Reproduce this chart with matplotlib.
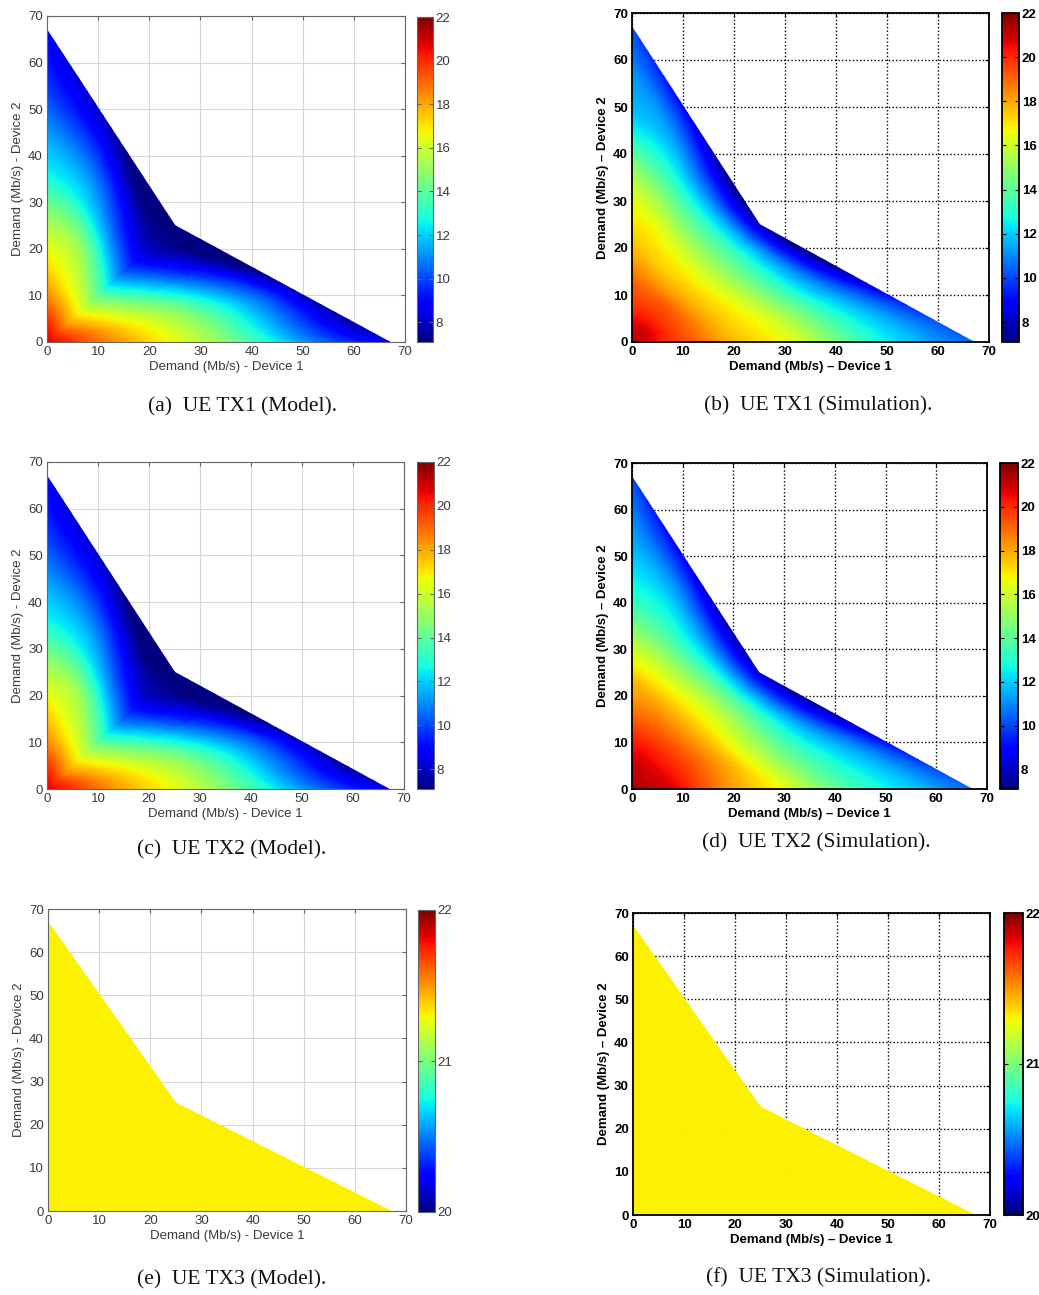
import numpy as np
import matplotlib
matplotlib.use('Agg')
import matplotlib.pyplot as plt
import matplotlib.tri as mtri

W, H = 1039, 1295  # output size in pixels (dpi 100)

# Demand region: five sampling rays from the origin to the region boundary
# (left edge, upper middle, diagonal, lower middle, bottom edge), in Mb/s
ray_end_x = [0.0, 12.5, 25.0, 46.0, 67.0]
ray_end_y = [67.0, 46.0, 25.0, 12.5, 0.0]
ray_steps = np.linspace(0, 1, 11)  # node fractions along each ray

# UE transmit power (dBm) at the ray nodes, origin first, boundary last
# UE TX1 (Model)
a_left  = [20.8, 19.3, 17.8, 16.6, 15.0, 13.2, 12.0, 11.0, 10.0, 9.3, 8.8]
a_upmid = [20.8, 19.5, 17.8, 16.6, 15.8, 14.6, 12.8, 11.5, 10.3, 9.0, 7.8]
a_diag  = [20.8, 19.2, 17.5, 15.8, 14.0, 12.0, 10.3, 8.9, 7.9, 7.4, 7.1]
a_lomid = [20.8, 19.6, 18.3, 17.2, 16.2, 15.2, 14.0, 12.6, 11.2, 9.7, 7.8]
a_bot   = [20.8, 19.5, 18.3, 17.2, 16.2, 15.0, 13.6, 12.0, 10.6, 9.5, 8.9]
# UE TX1 (Simulation)
b_left  = [21.0, 20.0, 19.0, 17.7, 16.8, 15.8, 14.0, 12.1, 11.4, 10.8, 10.2]
b_upmid = [21.0, 20.5, 19.4, 18.2, 17.2, 16.4, 15.0, 13.4, 11.8, 10.3, 8.6]
b_diag  = [21.0, 20.8, 19.8, 19.0, 17.8, 16.9, 15.8, 14.5, 13.0, 10.8, 8.0]
b_lomid = [21.0, 20.5, 19.4, 18.3, 17.3, 16.5, 15.2, 13.6, 12.0, 10.4, 8.4]
b_bot   = [21.0, 20.0, 18.9, 17.7, 17.0, 16.0, 14.5, 13.0, 12.0, 11.1, 10.4]
# UE TX2 (Model)
c_left  = [20.8, 19.3, 17.9, 16.7, 15.0, 13.2, 12.0, 11.0, 10.0, 9.3, 8.8]
c_upmid = [20.8, 19.5, 17.8, 16.6, 15.8, 14.6, 12.8, 11.5, 10.3, 9.0, 7.8]
c_diag  = [20.8, 19.2, 17.5, 15.8, 14.0, 12.0, 10.3, 8.9, 7.9, 7.4, 7.1]
c_lomid = [20.8, 19.6, 18.3, 17.2, 16.2, 15.2, 14.0, 12.6, 11.2, 9.7, 7.8]
c_bot   = [20.8, 19.5, 18.3, 17.2, 16.2, 15.0, 13.6, 12.0, 10.6, 9.5, 8.9]
# UE TX2 (Simulation)
d_left  = [21.5, 20.8, 19.5, 18.2, 16.9, 15.0, 13.3, 12.2, 11.4, 10.8, 10.2]
d_upmid = [21.5, 21.0, 20.2, 19.1, 18.0, 16.6, 15.0, 13.3, 11.9, 10.4, 8.6]
d_diag  = [21.5, 21.0, 20.5, 19.7, 18.8, 17.7, 16.6, 15.3, 13.5, 11.0, 8.4]
d_lomid = [21.5, 21.0, 20.2, 19.1, 18.0, 16.6, 15.0, 13.5, 12.1, 10.6, 8.5]
d_bot   = [21.5, 20.9, 19.5, 18.0, 17.0, 15.8, 14.2, 13.0, 12.2, 11.3, 10.6]
# UE TX3 transmits at a flat power everywhere in the region
e_power = 21.31
f_power = 21.31

tx12_range = (7.1, 22.0)
tx12_ticks = [8, 10, 12, 14, 16, 18, 20, 22]
tx3_range = (20.0, 22.0)
tx3_ticks = [20, 21, 22]

captions = ['(a)  UE TX1 (Model).', '(b)  UE TX1 (Simulation).',
            '(c)  UE TX2 (Model).', '(d)  UE TX2 (Simulation).',
            '(e)  UE TX3 (Model).', '(f)  UE TX3 (Simulation).']


def make_tri(ray_ids):
    # one shared origin node, then the nodes of each ray, quads between neighbouring rays
    xs, ys = [0.0], [0.0]
    idx = {}
    for k in ray_ids:
        for j in range(1, len(ray_steps)):
            idx[k, j] = len(xs)
            xs.append(ray_steps[j] * ray_end_x[k])
            ys.append(ray_steps[j] * ray_end_y[k])
    tris = []
    n = len(ray_steps) - 1
    for k, k2 in zip(ray_ids[:-1], ray_ids[1:]):
        tris.append([0, idx[k2, 1], idx[k, 1]])
        for j in range(1, n):
            tris.append([idx[k, j], idx[k2, j + 1], idx[k, j + 1]])
            tris.append([idx[k, j], idx[k2, j], idx[k2, j + 1]])
    return mtri.Triangulation(xs, ys, tris)


def node_values(rays):
    z = [rays[0][0]]
    for r in rays:
        z.extend(r[1:])
    return np.array(z, dtype=float)


def px_rect(left, top, right, bottom):
    return [left / W, 1 - bottom / H, (right - left) / W, (bottom - top) / H]


all_rays = [0, 1, 2, 3, 4]
upper_rays = [0, 1, 2]   # x <= y side
lower_rays = [2, 3, 4]   # x >= y side

a_rays = [a_left, a_upmid, a_diag, a_lomid, a_bot]
b_rays = [b_left, b_upmid, b_diag, b_lomid, b_bot]
c_rays = [c_left, c_upmid, c_diag, c_lomid, c_bot]
d_rays = [d_left, d_upmid, d_diag, d_lomid, d_bot]
e_rays = [[e_power] * len(ray_steps)] * 5
f_rays = [[f_power] * len(ray_steps)] * 5
panel_rays = [a_rays, b_rays, c_rays, d_rays, e_rays, f_rays]

# axes / colorbar boxes in pixels: left, top, right, bottom
ax_boxes = [(47, 16, 405, 342), (632, 13, 989, 342),
            (47, 462, 404, 789), (632, 463, 987, 789),
            (48, 909, 406, 1211), (633, 913, 990, 1215)]
cb_boxes = [(417, 17, 433, 342), (1002, 13, 1019, 342),
            (417, 462, 434, 789), (1000, 463, 1018, 789),
            (418, 910, 435, 1212), (1004, 913, 1023, 1215)]
cap_pos = [(242, 407), (818, 406), (232, 850), (816, 843), (232, 1280), (818, 1278)]

plt.rcParams['font.family'] = ['Liberation Sans', 'DejaVu Sans']

fig = plt.figure(figsize=(W / 100, H / 100), dpi=100)

for i in range(6):
    sim = (i % 2 == 1)
    tx3 = (i >= 4)
    vmin, vmax = tx3_range if tx3 else tx12_range

    ax = fig.add_axes(px_rect(*ax_boxes[i]))
    # model surfaces fold along the diagonal, so each side is smoothed on its own
    parts = [all_rays] if sim else [upper_rays, lower_rays]
    for ids in parts:
        tri = make_tri(ids)
        z = node_values([panel_rays[i][k] for k in ids])
        tri_f, z_f = mtri.UniformTriRefiner(tri).refine_field(z, subdiv=3)
        pc = ax.tripcolor(tri_f, z_f, shading='gouraud', cmap='jet', vmin=vmin, vmax=vmax)

    ax.set_xlim(0, 70)
    ax.set_ylim(0, 70)
    ax.set_xticks(range(0, 71, 10))
    ax.set_yticks(range(0, 71, 10))
    ax.set_axisbelow(True)

    if sim:
        txt_col, edge_col, weight = 'black', 'black', 'bold'
        ax.grid(True, color='black', linestyle=(0, (1, 1.6)), linewidth=1.0)
        spine_lw = 1.3
        dash = '\u2013'
    else:
        txt_col, edge_col, weight = '#3a3a3a', '#666666', 'normal'
        ax.grid(True, color='#d6d6d6', linestyle='-', linewidth=0.8)
        spine_lw = 0.8
        dash = '-'

    for s in ax.spines.values():
        s.set_color(edge_col)
        s.set_linewidth(spine_lw)
    ax.tick_params(direction='in', length=3, width=0.8, color=edge_col,
                   top=True, right=True, labelsize=9.5, labelcolor=txt_col, pad=3)
    for lab in ax.get_xticklabels() + ax.get_yticklabels():
        lab.set_fontweight(weight)

    ax.set_xlabel('Demand (Mb/s) %s Device 1' % dash, fontsize=9.5, color=txt_col,
                  fontweight=weight, labelpad=2)
    ax.set_ylabel('Demand (Mb/s) %s Device 2' % dash, fontsize=9.5, color=txt_col,
                  fontweight=weight, labelpad=3)

    cax = fig.add_axes(px_rect(*cb_boxes[i]))
    cb = fig.colorbar(pc, cax=cax)
    cb.set_ticks(tx3_ticks if tx3 else tx12_ticks)
    cb.outline.set_edgecolor(edge_col)
    cb.outline.set_linewidth(spine_lw)
    cax.tick_params(direction='in', length=3, width=0.8, color=edge_col,
                    left=True, right=True, labelsize=9.5, labelcolor=txt_col, pad=2)
    for lab in cax.get_yticklabels():
        lab.set_fontweight(weight)

    cx, cy = cap_pos[i]
    fig.text(cx / W, 1 - cy / H, captions[i], ha='center', va='center',
             fontsize=15.5, family=['Liberation Serif', 'DejaVu Serif'], color='#111111')

fig.savefig('out.png', dpi=100)
